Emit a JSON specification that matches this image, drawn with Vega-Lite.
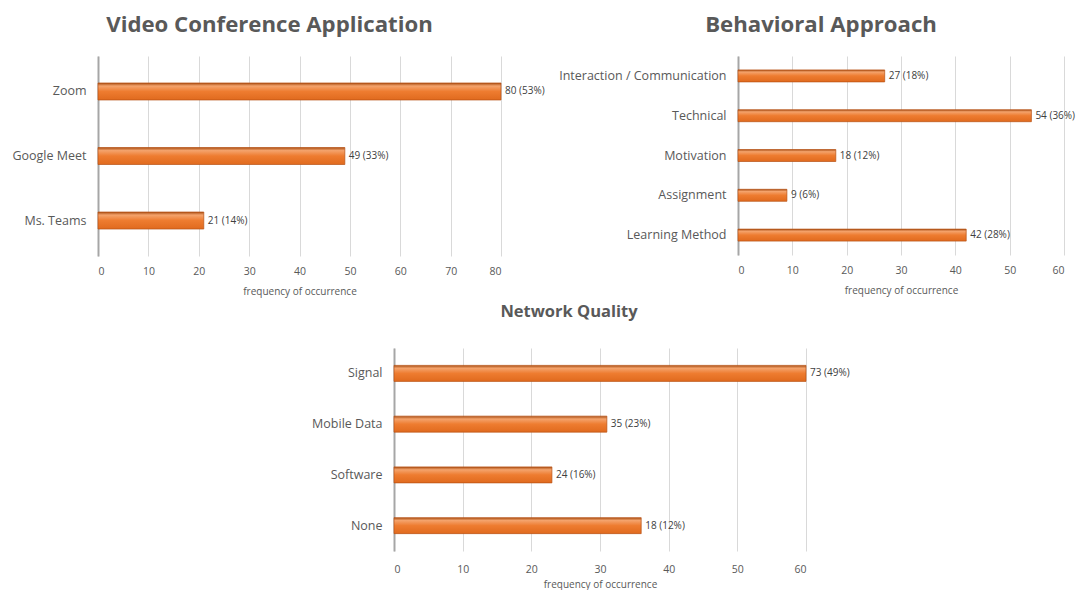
{
  "$schema": "https://vega.github.io/schema/vega-lite/v6.json",
  "usermeta": {"embedOptions": {"actions": false}},
  "background": "white",
  "padding": {"left": 8, "top": 13, "right": 2, "bottom": 0},
  "config": {
    "view": {"stroke": null},
    "font": "Open Sans",
    "axis": {"labelColor": "#595959", "titleColor": "#595959", "gridColor": "#d9d9d9", "ticks": false, "labelFont": "Open Sans", "titleFont": "Open Sans"},
    "title": {"font": "Open Sans", "color": "#595959", "fontWeight": "bold"}
  },
  "datasets": {
    "video": [
      {"app": "Zoom", "freq": 80, "label": "80 (53%)"},
      {"app": "Google Meet", "freq": 49, "label": "49 (33%)"},
      {"app": "Ms. Teams", "freq": 21, "label": "21 (14%)"}
    ],
    "behav": [
      {"cat": "Interaction / Communication", "freq": 27, "label": "27 (18%)"},
      {"cat": "Technical", "freq": 54, "label": "54 (36%)"},
      {"cat": "Motivation", "freq": 18, "label": "18 (12%)"},
      {"cat": "Assignment", "freq": 9, "label": "9 (6%)"},
      {"cat": "Learning Method", "freq": 42, "label": "42 (28%)"}
    ],
    "network": [
      {"cat": "Signal", "freq": 60, "label": "73 (49%)"},
      {"cat": "Mobile Data", "freq": 31, "label": "35 (23%)"},
      {"cat": "Software", "freq": 23, "label": "24 (16%)"},
      {"cat": "None", "freq": 36, "label": "18 (12%)"}
    ]
  },
  "bounds": "full",
  "align": "none",
  "spacing": 6,
  "vconcat": [
    {
      "bounds": "full",
      "align": "none",
      "spacing": 8,
      "hconcat": [
        {
          "width": 403,
          "height": 200,
          "title": {"text": "Video Conference Application", "fontSize": 22.2, "offset": 20, "dx": -30},
          "data": {"name": "video"},
          "encoding": {
            "y": {"field": "app", "type": "nominal", "sort": null, "title": null,
              "scale": {"paddingInner": 0, "paddingOuter": 0.05},
              "axis": {"labelFontSize": 12.5, "labelPadding": 12, "minExtent": 90, "domainColor": "#a6a6a6", "domainWidth": 2}}
          },
          "layer": [
            {
              "mark": {"type": "bar", "size": 17, "stroke": "#b85214", "strokeWidth": 0.7,
                "color": {"gradient": "linear", "x1": 0, "y1": 0, "x2": 0, "y2": 1,
                  "stops": [{"offset": 0, "color": "#a84d12"}, {"offset": 0.18, "color": "#f4a36c"}, {"offset": 0.5, "color": "#ee7c30"}, {"offset": 1, "color": "#e06a1e"}]}},
              "encoding": {
                "x": {"field": "freq", "type": "quantitative", "scale": {"domain": [0, 80]},
                  "axis": {"values": [0, 10, 20, 30, 40, 50, 60, 70, 80], "title": "frequency of occurrence", "titleFontSize": 10, "titleFontWeight": "normal", "labelFontSize": 10.5, "domain": false, "grid": true, "labelPadding": 10, "titlePadding": 10}}
              }
            },
            {
              "mark": {"type": "text", "align": "left", "dx": 4, "fontSize": 10, "color": "#404040"},
              "encoding": {"x": {"field": "freq", "type": "quantitative"}, "text": {"field": "label"}}
            }
          ]
        },
        {
          "width": 326,
          "height": 199,
          "title": {"text": "Behavioral Approach", "fontSize": 22.2, "offset": 20, "dx": -80},
          "data": {"name": "behav"},
          "encoding": {
            "y": {"field": "cat", "type": "nominal", "sort": null, "title": null,
              "scale": {"paddingInner": 0, "paddingOuter": 0},
              "axis": {"labelFontSize": 12.5, "labelPadding": 12, "minExtent": 185, "domainColor": "#a6a6a6", "domainWidth": 2}}
          },
          "layer": [
            {
              "mark": {"type": "bar", "size": 12, "stroke": "#b85214", "strokeWidth": 0.7,
                "color": {"gradient": "linear", "x1": 0, "y1": 0, "x2": 0, "y2": 1,
                  "stops": [{"offset": 0, "color": "#a84d12"}, {"offset": 0.18, "color": "#f4a36c"}, {"offset": 0.5, "color": "#ee7c30"}, {"offset": 1, "color": "#e06a1e"}]}},
              "encoding": {
                "x": {"field": "freq", "type": "quantitative", "scale": {"domain": [0, 60]},
                  "axis": {"values": [0, 10, 20, 30, 40, 50, 60], "title": "frequency of occurrence", "titleFontSize": 10, "titleFontWeight": "normal", "labelFontSize": 10.5, "domain": false, "grid": true, "labelPadding": 10, "titlePadding": 10}}
              }
            },
            {
              "mark": {"type": "text", "align": "left", "dx": 4, "fontSize": 10, "color": "#404040"},
              "encoding": {"x": {"field": "freq", "type": "quantitative"}, "text": {"field": "label"}}
            }
          ]
        }
      ]
    },
    {
      "bounds": "full",
      "spacing": 0,
      "hconcat": [
        {
          "width": 206,
          "height": 10,
          "data": {"values": []},
          "mark": {"type": "point", "opacity": 0},
          "encoding": {}
        },
        {
          "width": 412,
          "height": 203,
          "title": {"text": "Network Quality", "fontSize": 16.5, "offset": 28, "dx": -31},
          "data": {"name": "network"},
          "encoding": {
            "y": {"field": "cat", "type": "nominal", "sort": null, "title": null,
              "scale": {"paddingInner": 0, "paddingOuter": 0},
              "axis": {"labelFontSize": 12.5, "labelPadding": 12, "minExtent": 90, "domainColor": "#a6a6a6", "domainWidth": 2}}
          },
          "layer": [
            {
              "mark": {"type": "bar", "size": 16, "stroke": "#b85214", "strokeWidth": 0.7,
                "color": {"gradient": "linear", "x1": 0, "y1": 0, "x2": 0, "y2": 1,
                  "stops": [{"offset": 0, "color": "#a84d12"}, {"offset": 0.18, "color": "#f4a36c"}, {"offset": 0.5, "color": "#ee7c30"}, {"offset": 1, "color": "#e06a1e"}]}},
              "encoding": {
                "x": {"field": "freq", "type": "quantitative", "scale": {"domain": [0, 60]},
                  "axis": {"values": [0, 10, 20, 30, 40, 50, 60], "title": "frequency of occurrence", "titleFontSize": 10, "titleFontWeight": "normal", "labelFontSize": 10.5, "domain": false, "grid": true, "labelPadding": 13, "titlePadding": 5}}
              }
            },
            {
              "mark": {"type": "text", "align": "left", "dx": 4, "fontSize": 10, "color": "#404040"},
              "encoding": {"x": {"field": "freq", "type": "quantitative"}, "text": {"field": "label"}}
            }
          ]
        }
      ]
    }
  ]
}
